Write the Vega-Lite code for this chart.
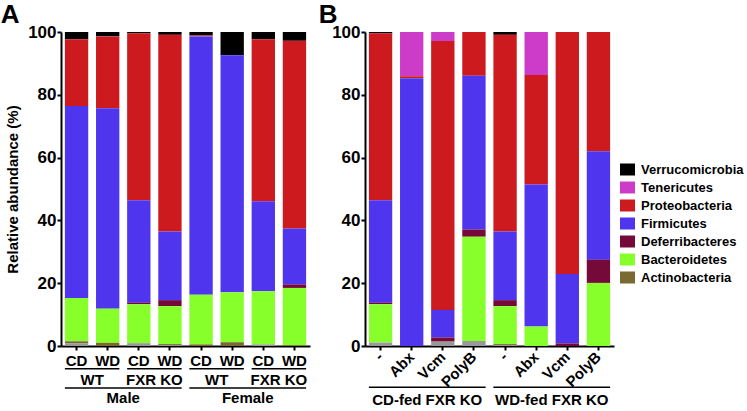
{
  "$schema": "https://vega.github.io/schema/vega-lite/v6.json",
  "background": "white",
  "padding": {"left": 0, "top": 2, "right": 5, "bottom": 2},
  "config": {
    "font": "Liberation Sans",
    "view": {"stroke": null},
    "concat": {"spacing": 8},
    "axis": {
      "domainColor": "black", "domainWidth": 2, "tickColor": "black", "tickWidth": 2, "tickSize": 4,
      "labelColor": "black", "labelFontWeight": "bold", "labelFontSize": 15, "labelPadding": 3,
      "grid": false, "titleColor": "black", "titleFontWeight": "bold", "titleFontSize": 15
    },
    "axisY": {"labelFontSize": 17, "labelPadding": 1}
  },
  "datasets": {
    "A": [
      {"bar": "Male|WT|CD", "phylum": "Verrucomicrobia", "value": 2.3},
      {"bar": "Male|WT|CD", "phylum": "Proteobacteria", "value": 21.3},
      {"bar": "Male|WT|CD", "phylum": "Firmicutes", "value": 61.1},
      {"bar": "Male|WT|CD", "phylum": "Bacteroidetes", "value": 13.8},
      {"bar": "Male|WT|CD", "phylum": "Actinobacteria", "value": 0.6},
      {"bar": "Male|WT|CD", "phylum": "(unassigned)", "value": 0.9},
      {"bar": "Male|WT|WD", "phylum": "Verrucomicrobia", "value": 1.4},
      {"bar": "Male|WT|WD", "phylum": "Proteobacteria", "value": 22.9},
      {"bar": "Male|WT|WD", "phylum": "Firmicutes", "value": 63.8},
      {"bar": "Male|WT|WD", "phylum": "Bacteroidetes", "value": 10.9},
      {"bar": "Male|WT|WD", "phylum": "Actinobacteria", "value": 1.0},
      {"bar": "Male|FXR KO|CD", "phylum": "Verrucomicrobia", "value": 0.4},
      {"bar": "Male|FXR KO|CD", "phylum": "Proteobacteria", "value": 53.2},
      {"bar": "Male|FXR KO|CD", "phylum": "Firmicutes", "value": 32.6},
      {"bar": "Male|FXR KO|CD", "phylum": "Deferribacteres", "value": 0.5},
      {"bar": "Male|FXR KO|CD", "phylum": "Bacteroidetes", "value": 12.4},
      {"bar": "Male|FXR KO|CD", "phylum": "(unassigned)", "value": 0.9},
      {"bar": "Male|FXR KO|WD", "phylum": "Verrucomicrobia", "value": 0.9},
      {"bar": "Male|FXR KO|WD", "phylum": "Proteobacteria", "value": 62.6},
      {"bar": "Male|FXR KO|WD", "phylum": "Firmicutes", "value": 21.9},
      {"bar": "Male|FXR KO|WD", "phylum": "Deferribacteres", "value": 1.9},
      {"bar": "Male|FXR KO|WD", "phylum": "Bacteroidetes", "value": 12.1},
      {"bar": "Male|FXR KO|WD", "phylum": "Actinobacteria", "value": 0.3},
      {"bar": "Male|FXR KO|WD", "phylum": "(unassigned)", "value": 0.3},
      {"bar": "Female|WT|CD", "phylum": "Verrucomicrobia", "value": 1.1},
      {"bar": "Female|WT|CD", "phylum": "Proteobacteria", "value": 0.3},
      {"bar": "Female|WT|CD", "phylum": "Firmicutes", "value": 82.3},
      {"bar": "Female|WT|CD", "phylum": "Bacteroidetes", "value": 15.8},
      {"bar": "Female|WT|CD", "phylum": "Actinobacteria", "value": 0.5},
      {"bar": "Female|WT|WD", "phylum": "Verrucomicrobia", "value": 7.4},
      {"bar": "Female|WT|WD", "phylum": "Firmicutes", "value": 75.5},
      {"bar": "Female|WT|WD", "phylum": "Bacteroidetes", "value": 15.9},
      {"bar": "Female|WT|WD", "phylum": "Actinobacteria", "value": 1.2},
      {"bar": "Female|FXR KO|CD", "phylum": "Verrucomicrobia", "value": 2.3},
      {"bar": "Female|FXR KO|CD", "phylum": "Proteobacteria", "value": 51.6},
      {"bar": "Female|FXR KO|CD", "phylum": "Firmicutes", "value": 28.7},
      {"bar": "Female|FXR KO|CD", "phylum": "Bacteroidetes", "value": 16.9},
      {"bar": "Female|FXR KO|CD", "phylum": "(unassigned)", "value": 0.5},
      {"bar": "Female|FXR KO|WD", "phylum": "Verrucomicrobia", "value": 2.8},
      {"bar": "Female|FXR KO|WD", "phylum": "Proteobacteria", "value": 59.8},
      {"bar": "Female|FXR KO|WD", "phylum": "Firmicutes", "value": 17.8},
      {"bar": "Female|FXR KO|WD", "phylum": "Deferribacteres", "value": 1.1},
      {"bar": "Female|FXR KO|WD", "phylum": "Bacteroidetes", "value": 18.3},
      {"bar": "Female|FXR KO|WD", "phylum": "Actinobacteria", "value": 0.2}
    ],
    "B": [
      {"bar": "CD-fed|-", "phylum": "Verrucomicrobia", "value": 0.4},
      {"bar": "CD-fed|-", "phylum": "Proteobacteria", "value": 53.2},
      {"bar": "CD-fed|-", "phylum": "Firmicutes", "value": 32.6},
      {"bar": "CD-fed|-", "phylum": "Deferribacteres", "value": 0.5},
      {"bar": "CD-fed|-", "phylum": "Bacteroidetes", "value": 12.2},
      {"bar": "CD-fed|-", "phylum": "(unassigned)", "value": 1.1},
      {"bar": "CD-fed|Abx", "phylum": "Tenericutes", "value": 14.1},
      {"bar": "CD-fed|Abx", "phylum": "Proteobacteria", "value": 0.6},
      {"bar": "CD-fed|Abx", "phylum": "Firmicutes", "value": 85.3},
      {"bar": "CD-fed|Vcm", "phylum": "Tenericutes", "value": 2.9},
      {"bar": "CD-fed|Vcm", "phylum": "Proteobacteria", "value": 85.6},
      {"bar": "CD-fed|Vcm", "phylum": "Firmicutes", "value": 8.8},
      {"bar": "CD-fed|Vcm", "phylum": "Deferribacteres", "value": 1.3},
      {"bar": "CD-fed|Vcm", "phylum": "(unassigned)", "value": 1.4},
      {"bar": "CD-fed|PolyB", "phylum": "Proteobacteria", "value": 13.9},
      {"bar": "CD-fed|PolyB", "phylum": "Firmicutes", "value": 49.0},
      {"bar": "CD-fed|PolyB", "phylum": "Deferribacteres", "value": 2.3},
      {"bar": "CD-fed|PolyB", "phylum": "Bacteroidetes", "value": 33.2},
      {"bar": "CD-fed|PolyB", "phylum": "(unassigned)", "value": 1.6},
      {"bar": "WD-fed|-", "phylum": "Verrucomicrobia", "value": 0.9},
      {"bar": "WD-fed|-", "phylum": "Proteobacteria", "value": 62.6},
      {"bar": "WD-fed|-", "phylum": "Firmicutes", "value": 21.9},
      {"bar": "WD-fed|-", "phylum": "Deferribacteres", "value": 1.9},
      {"bar": "WD-fed|-", "phylum": "Bacteroidetes", "value": 12.1},
      {"bar": "WD-fed|-", "phylum": "Actinobacteria", "value": 0.3},
      {"bar": "WD-fed|-", "phylum": "(unassigned)", "value": 0.3},
      {"bar": "WD-fed|Abx", "phylum": "Tenericutes", "value": 13.7},
      {"bar": "WD-fed|Abx", "phylum": "Proteobacteria", "value": 34.9},
      {"bar": "WD-fed|Abx", "phylum": "Firmicutes", "value": 45.2},
      {"bar": "WD-fed|Abx", "phylum": "Bacteroidetes", "value": 6.2},
      {"bar": "WD-fed|Vcm", "phylum": "Proteobacteria", "value": 77.1},
      {"bar": "WD-fed|Vcm", "phylum": "Firmicutes", "value": 22.1},
      {"bar": "WD-fed|Vcm", "phylum": "Deferribacteres", "value": 0.8},
      {"bar": "WD-fed|PolyB", "phylum": "Proteobacteria", "value": 38.0},
      {"bar": "WD-fed|PolyB", "phylum": "Firmicutes", "value": 34.5},
      {"bar": "WD-fed|PolyB", "phylum": "Deferribacteres", "value": 7.4},
      {"bar": "WD-fed|PolyB", "phylum": "Bacteroidetes", "value": 20.1}
    ],
    "A2": [
      {"g": "Male|WT", "label": "WT"},
      {"g": "Male|FXR KO", "label": "FXR KO"},
      {"g": "Female|WT", "label": "WT"},
      {"g": "Female|FXR KO", "label": "FXR KO"}
    ],
    "A3": [
      {"g": "Male", "label": "Male"},
      {"g": "Female", "label": "Female"}
    ],
    "B2": [
      {"g": "CD-fed", "label": "CD-fed FXR KO"},
      {"g": "WD-fed", "label": "WD-fed FXR KO"}
    ]
  },
  "hconcat": [
    {
      "width": 249,
      "height": 314,
      "title": {"text": "A", "anchor": "start", "frame": "bounds", "fontSize": 26, "fontWeight": "bold", "color": "black", "dx": -5, "offset": -5},
      "layer": [
        {
          "data": {"name": "A"},
          "mark": {"type": "bar"},
          "encoding": {
            "x": {"field": "bar", "type": "nominal", "sort": null, "scale": {"paddingInner": 0.25, "paddingOuter": 0.125}, "axis": {"title": null, "labelAngle": 0, "labelExpr": "split(datum.value, '|')[2]"}},
            "y": {"field": "value", "type": "quantitative", "stack": "zero", "scale": {"domain": [0, 100], "nice": false}, "axis": {"title": "Relative abundance (%)", "values": [0, 20, 40, 60, 80, 100], "titlePadding": 7}},
            "color": {
              "field": "phylum", "type": "nominal",
              "scale": {
                "domain": ["Verrucomicrobia", "Tenericutes", "Proteobacteria", "Firmicutes", "Deferribacteres", "Bacteroidetes", "Actinobacteria", "(unassigned)"],
                "range": ["#000000", "#cc3cc8", "#cc1a1e", "#4f36ee", "#750a3a", "#86ff2a", "#7a6930", "#999999"]
              },
              "legend": {
                "orient": "none", "legendX": 559, "legendY": 130, "title": null,
                "values": ["Verrucomicrobia", "Tenericutes", "Proteobacteria", "Firmicutes", "Deferribacteres", "Bacteroidetes", "Actinobacteria"],
                "symbolType": "M-1,-0.8H1V0.8H-1Z", "symbolSize": 225, "symbolStrokeWidth": 0, "symbolOpacity": 1,
                "labelFontSize": 13, "labelFontWeight": "bold", "labelColor": "black", "rowPadding": 3, "labelOffset": 6
              }
            },
            "order": {"field": "phylum", "sort": "ascending"}
          }
        },
        {
          "data": {"name": "A2"},
          "mark": {"type": "bar", "color": "black"},
          "encoding": {
            "x": {"field": "g", "type": "nominal", "sort": null, "scale": {"paddingInner": 0.125, "paddingOuter": 0.0625}, "axis": null},
            "y": {"datum": -7.0, "type": "quantitative", "scale": {"domain": [0, 100], "nice": false}},
            "y2": {"datum": -7.5}
          }
        },
        {
          "data": {"name": "A2"},
          "mark": {"type": "text", "fontSize": 15, "fontWeight": "bold", "baseline": "middle", "color": "black"},
          "encoding": {
            "x": {"field": "g", "type": "nominal", "sort": null, "scale": {"paddingInner": 0.125, "paddingOuter": 0.0625}, "axis": null},
            "y": {"datum": -10.8, "type": "quantitative", "scale": {"domain": [0, 100], "nice": false}},
            "text": {"field": "label"}
          }
        },
        {
          "data": {"name": "A3"},
          "mark": {"type": "bar", "color": "black"},
          "encoding": {
            "x": {"field": "g", "type": "nominal", "sort": null, "scale": {"paddingInner": 0.0625, "paddingOuter": 0.03125}, "axis": null},
            "y": {"datum": -13.1, "type": "quantitative", "scale": {"domain": [0, 100], "nice": false}},
            "y2": {"datum": -13.6}
          }
        },
        {
          "data": {"name": "A3"},
          "mark": {"type": "text", "fontSize": 15, "fontWeight": "bold", "baseline": "middle", "color": "black"},
          "encoding": {
            "x": {"field": "g", "type": "nominal", "sort": null, "scale": {"paddingInner": 0.0625, "paddingOuter": 0.03125}, "axis": null},
            "y": {"datum": -16.5, "type": "quantitative", "scale": {"domain": [0, 100], "nice": false}},
            "text": {"field": "label"}
          }
        }
      ],
      "resolve": {"scale": {"x": "independent"}}
    },
    {
      "width": 249,
      "height": 314,
      "title": {"text": "B", "anchor": "start", "frame": "bounds", "fontSize": 26, "fontWeight": "bold", "color": "black", "dx": -13, "offset": -5},
      "layer": [
        {
          "data": {"name": "B"},
          "mark": {"type": "bar"},
          "encoding": {
            "x": {"field": "bar", "type": "nominal", "sort": null, "scale": {"paddingInner": 0.25, "paddingOuter": 0.125}, "axis": {"title": null, "labelAngle": -45, "labelAlign": "right", "labelBaseline": "middle", "labelPadding": 4, "labelExpr": "split(datum.value, '|')[1]"}},
            "y": {"field": "value", "type": "quantitative", "stack": "zero", "scale": {"domain": [0, 100], "nice": false}, "axis": {"title": null, "values": [0, 20, 40, 60, 80, 100]}},
            "color": {"field": "phylum", "type": "nominal"},
            "order": {"field": "phylum", "sort": "ascending"}
          }
        },
        {
          "data": {"name": "B2"},
          "mark": {"type": "bar", "color": "black"},
          "encoding": {
            "x": {"field": "g", "type": "nominal", "sort": null, "scale": {"paddingInner": 0.0625, "paddingOuter": 0.03125}, "axis": null},
            "y": {"datum": -12.9, "type": "quantitative", "scale": {"domain": [0, 100], "nice": false}},
            "y2": {"datum": -13.4}
          }
        },
        {
          "data": {"name": "B2"},
          "mark": {"type": "text", "fontSize": 15, "fontWeight": "bold", "baseline": "middle", "color": "black"},
          "encoding": {
            "x": {"field": "g", "type": "nominal", "sort": null, "scale": {"paddingInner": 0.0625, "paddingOuter": 0.03125}, "axis": null},
            "y": {"datum": -17.3, "type": "quantitative", "scale": {"domain": [0, 100], "nice": false}},
            "text": {"field": "label"}
          }
        }
      ],
      "resolve": {"scale": {"x": "independent"}}
    }
  ]
}
